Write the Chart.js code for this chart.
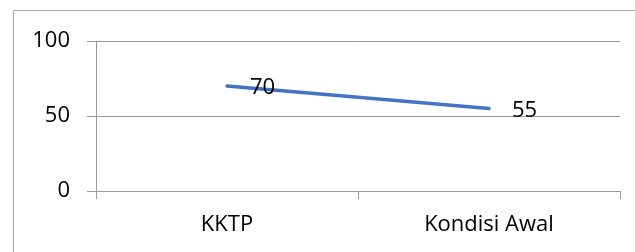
<!DOCTYPE html>
<html lang="en">
  <head>
    <meta charset="UTF-8" />
    <title>KKTP vs Kondisi Awal</title>
    <style>
      body { margin: 0; background: #fff; }
      #wrap { position: relative; width: 635px; height: 252px; overflow: hidden; }
      #frame { position: absolute; left: 13px; top: 10px; width: 640px; height: 260px; border: 1px solid #a6a6a6; }
      canvas { position: absolute; left: 0; top: 0; }
    </style>
  </head>
  <body>
    <div id="wrap">
      <div id="frame"></div>
      <canvas id="myChart" width="635" height="252"></canvas>
    </div>
  </body>
</html>
<script src="https://cdn.jsdelivr.net/npm/chart.js"></script>

<script>
  const categories = ["KKTP", "Kondisi Awal"];
  const values = [70, 55];
  const yTicks = [0, 50, 100];

  const font = { family: "'Open Sans', sans-serif", size: 22 };

  // draws the value next to each point, like the office chart labels
  const valueLabels = {
    id: "valueLabels",
    afterDatasetsDraw(chart) {
      const c = chart.ctx;
      const meta = chart.getDatasetMeta(0);
      c.save();
      c.font = font.size + "px " + font.family;
      c.fillStyle = "#000";
      c.textAlign = "left";
      c.textBaseline = "middle";
      meta.data.forEach((pt, i) => {
        c.fillText(String(values[i]), pt.x + 23, pt.y + 2);
      });
      c.restore();
    },
  };

  const ctx = document.getElementById("myChart").getContext("2d");
  const myChart = new Chart(ctx, {
    type: "line",
    data: {
      labels: categories,
      datasets: [
        {
          data: values,
          borderColor: "#4472C4",
          borderWidth: 3.5,
          borderCapStyle: "round",
          pointRadius: 0,
          tension: 0,
        },
      ],
    },
    options: {
      responsive: false,
      animation: false,
      layout: { padding: { left: 0, right: 15, top: 41, bottom: 0 } },
      plugins: { legend: { display: false }, tooltip: { enabled: false } },
      scales: {
        x: {
          offset: true,
          grid: {
            offset: true,
            drawOnChartArea: false,
            drawTicks: true,
            tickLength: 8,
            color: "#999",
          },
          border: { display: true, color: "#999" },
          ticks: { color: "#000", font: font, padding: 13, maxRotation: 0 },
          afterFit(scale) { scale.height = 61; },
        },
        y: {
          min: 0,
          max: 100,
          afterBuildTicks(scale) {
            scale.ticks = yTicks.map((v) => ({ value: v }));
          },
          grid: { color: "#999", tickLength: 9 },
          border: { display: true, color: "#999" },
          ticks: { color: "#000", font: font, padding: 17 },
          afterFit(scale) { scale.width = 96; },
        },
      },
    },
    plugins: [valueLabels],
  });
</script>
